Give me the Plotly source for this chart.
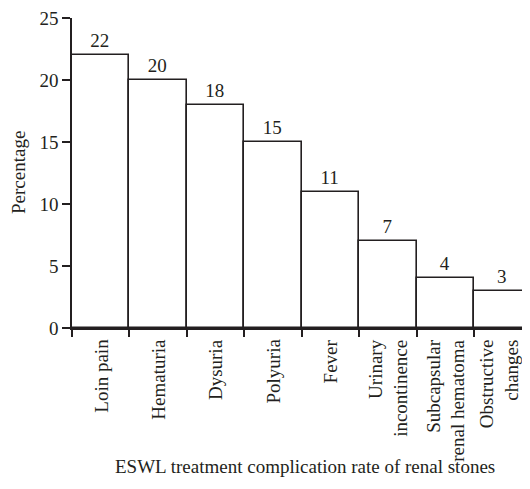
import plotly.graph_objects as go

categories = ["Loin pain", "Hematuria", "Dysuria", "Polyuria", "Fever",
              "Urinary incontinence", "Subcapsular renal hematoma", "Obstructive changes"]
tick_labels = ["Loin pain", "Hematuria", "Dysuria", "Polyuria", "Fever",
               "Urinary<br>incontinence", "Subcapsular<br>renal hematoma", "Obstructive<br>changes"]
values = [22, 20, 18, 15, 11, 7, 4, 3]
y_ticks = [0, 5, 10, 15, 20, 25]

FONT = "Liberation Serif, Times New Roman, serif"
TXT = "#231f20"
LINE = "#231f20"
FS = 19

# The page body has an 8px margin; size the figure so the page does not overflow
# and the plot area lands at page x 72..522, y 16..328.
W, H = 514, 473
ML, MT, MB = 64, 8, 153
PW = W - ML
PH = H - MT - MB

xs = [i + 0.5 for i in range(len(categories))]

fig = go.Figure()
fig.add_trace(go.Bar(
    x=xs, y=values, width=1,
    marker=dict(color="white", line=dict(color=LINE, width=1.6)),
    text=[str(v) for v in values], textposition="outside",
    textfont=dict(family=FONT, size=FS, color=TXT),
    hovertext=categories, showlegend=False,
))

n = len(tick_labels)
for i, (xv, lab) in enumerate(zip(xs, tick_labels)):
    fig.add_annotation(x=xv, y=0, xref="x", yref="y", text=lab, showarrow=False,
                       textangle=-90, xanchor="center", yanchor="top", align="right",
                       yshift=-9, xshift=(-4 if i == n - 1 else 0),
                       font=dict(family=FONT, size=FS, color=TXT))

# axis title "Percentage" centred at page x = 18
fig.add_annotation(x=(18 - 72) / PW, y=0.5, xref="paper", yref="paper", text="Percentage",
                   showarrow=False, textangle=-90, xanchor="center", yanchor="middle",
                   font=dict(family=FONT, size=FS, color=TXT))

# bottom caption, bottom edge at page y ~480
fig.add_annotation(x=(305 - 72) / PW, y=(328 - 480) / PH, xref="paper", yref="paper",
                   text="ESWL treatment complication rate of renal stones", showarrow=False,
                   xanchor="center", yanchor="bottom",
                   font=dict(family=FONT, size=FS, color=TXT))

fig.update_layout(
    width=W, height=H,
    margin=dict(l=ML, r=0, t=MT, b=MB, pad=0),
    plot_bgcolor="white", paper_bgcolor="white",
    bargap=0,
    font=dict(family=FONT, size=FS, color=TXT),
    xaxis=dict(range=[0, PW / 57.43], showgrid=False, zeroline=False, showline=True,
               linecolor=LINE, linewidth=1.6, ticks="outside", ticklen=7,
               tickwidth=1.6, tickcolor=LINE,
               tickvals=list(range(len(categories))), showticklabels=False),
    yaxis=dict(range=[0, 25], showgrid=False, zeroline=False, showline=True,
               linecolor=LINE, linewidth=1.6, ticks="outside", ticklen=8,
               tickwidth=1.6, tickcolor=LINE, tickvals=y_ticks, ticklabeloverflow="allow",
               tickfont=dict(family=FONT, size=FS, color=TXT)),
)

fig.write_html("out.html")
